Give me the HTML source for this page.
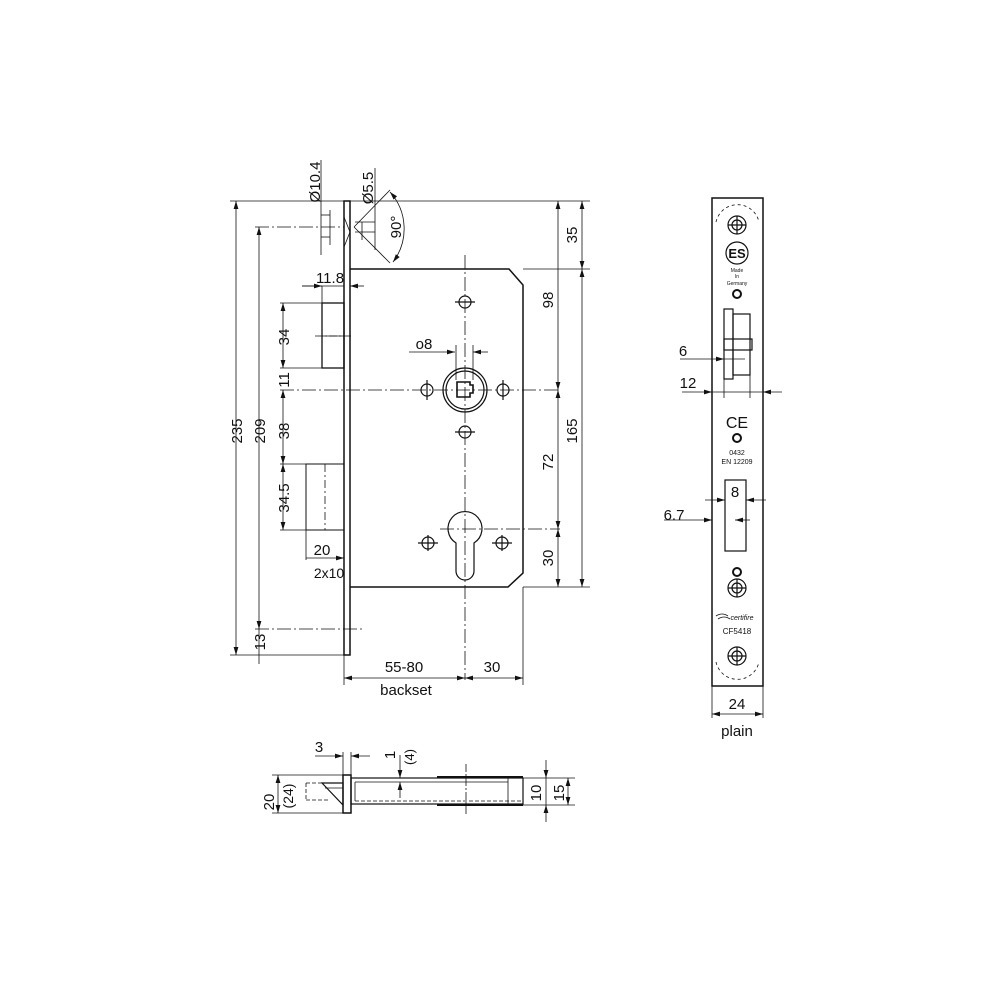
<!DOCTYPE html>
<html><head><meta charset="utf-8"><style>
html,body{margin:0;padding:0;background:#fff}
svg{display:block}
text{font-family:"Liberation Sans",sans-serif;fill:#111}
</style></head><body>
<svg width="1000" height="1000" viewBox="0 0 1000 1000" xmlns="http://www.w3.org/2000/svg">
<defs>
<marker id="a" viewBox="0 0 10 6" refX="10" refY="3" markerWidth="8" markerHeight="5" orient="auto-start-reverse" markerUnits="userSpaceOnUse"><path d="M0,0 L10,3 L0,6 z" fill="#111"/></marker>
</defs>
<g stroke="#111" fill="none" stroke-width="0.8">
<rect x="344" y="201" width="6" height="454" stroke-width="1.5"/>
<path d="M344,217 L350,232 L344,247" />
<path d="M350,269 L509,269 L523,285 L523,573 L508,587 L350,587" stroke-width="1.5"/>
<line x1="465" y1="255" x2="465" y2="680" stroke-dasharray="14,3,2,3"/>
<line x1="280" y1="390" x2="560" y2="390" stroke-dasharray="14,3,2,3"/>
<line x1="440" y1="529" x2="560" y2="529" stroke-dasharray="14,3,2,3"/>
<g stroke-width="1.2">
<circle cx="465" cy="302" r="6"/><line x1="455" y1="302" x2="475" y2="302"/>
<circle cx="465" cy="432" r="6"/><line x1="455" y1="432" x2="475" y2="432"/>
<circle cx="427" cy="390" r="6"/><line x1="427" y1="380" x2="427" y2="400"/>
<circle cx="503" cy="390" r="6"/><line x1="503" y1="380" x2="503" y2="400"/>
<circle cx="428" cy="543" r="6"/><line x1="418" y1="543" x2="438" y2="543"/><line x1="428" y1="535" x2="428" y2="551"/>
<circle cx="502" cy="543" r="6"/><line x1="492" y1="543" x2="512" y2="543"/><line x1="502" y1="535" x2="502" y2="551"/>
<circle cx="465" cy="390" r="22"/><circle cx="465" cy="390" r="19"/>
<path d="M457,382 h13 v3 h3 v8 h-3 v4 h-13 z" stroke-width="1.6"/>
<path d="M456,543 A17,17 0 1 1 474,543 L474,571 A9,9 0 0 1 456,571 Z"/>
</g>
<rect x="322" y="303" width="22" height="65" stroke-width="1.3"/>
<line x1="322" y1="336" x2="344" y2="336"/>
<line x1="315" y1="336" x2="352" y2="336" stroke-dasharray="8,2,2,2"/>
<rect x="306" y="464" width="38" height="66" stroke-width="1"/>
<line x1="325" y1="464" x2="325" y2="530" stroke-dasharray="8,3,2,3"/>
<line x1="230" y1="201" x2="344" y2="201"/>
<line x1="255" y1="227" x2="344" y2="227" stroke-dasharray="14,3,2,3"/>
<line x1="230" y1="655" x2="344" y2="655"/>
<line x1="255" y1="629" x2="362" y2="629" stroke-dasharray="14,3,2,3"/>
<line x1="280" y1="303" x2="322" y2="303"/>
<line x1="280" y1="368" x2="322" y2="368"/>
<line x1="280" y1="464" x2="306" y2="464"/>
<line x1="280" y1="530" x2="306" y2="530"/>
<line x1="350" y1="201" x2="590" y2="201"/>
<line x1="523" y1="269" x2="590" y2="269"/>
<line x1="523" y1="587" x2="590" y2="587"/>
<line x1="523" y1="587" x2="523" y2="685"/>
<line x1="344" y1="655" x2="344" y2="685"/>
<line x1="236" y1="201" x2="236" y2="655" marker-start="url(#a)" marker-end="url(#a)"/>
<line x1="259" y1="227" x2="259" y2="629" marker-start="url(#a)" marker-end="url(#a)"/>
<line x1="259" y1="629" x2="259" y2="664"/>
<line x1="283" y1="303" x2="283" y2="368" marker-start="url(#a)" marker-end="url(#a)"/>
<line x1="283" y1="390" x2="283" y2="464" marker-start="url(#a)" marker-end="url(#a)"/>
<line x1="283" y1="464" x2="283" y2="530" marker-start="url(#a)" marker-end="url(#a)"/>
<line x1="582" y1="201" x2="582" y2="269" marker-start="url(#a)" marker-end="url(#a)"/>
<line x1="582" y1="269" x2="582" y2="587" marker-start="url(#a)" marker-end="url(#a)"/>
<line x1="558" y1="201" x2="558" y2="390" marker-start="url(#a)" marker-end="url(#a)"/>
<line x1="558" y1="390" x2="558" y2="529" marker-start="url(#a)" marker-end="url(#a)"/>
<line x1="558" y1="529" x2="558" y2="587" marker-start="url(#a)" marker-end="url(#a)"/>
<line x1="344" y1="678" x2="465" y2="678" marker-start="url(#a)" marker-end="url(#a)"/>
<line x1="465" y1="678" x2="523" y2="678" marker-start="url(#a)" marker-end="url(#a)"/>
<line x1="302" y1="286" x2="322" y2="286" marker-end="url(#a)"/>
<line x1="364" y1="286" x2="350" y2="286" marker-end="url(#a)"/>
<line x1="322" y1="286" x2="322" y2="303"/>
<line x1="302" y1="286" x2="344" y2="286"/>
<line x1="306" y1="530" x2="306" y2="560"/>
<line x1="306" y1="558" x2="344" y2="558" marker-end="url(#a)"/>
<line x1="321" y1="160" x2="321" y2="255"/>
<line x1="321" y1="215" x2="330" y2="215"/><line x1="321" y1="237" x2="330" y2="237"/>
<line x1="330" y1="210" x2="330" y2="245"/>
<line x1="375" y1="168" x2="375" y2="250"/>
<line x1="355" y1="222" x2="375" y2="222"/><line x1="355" y1="232" x2="375" y2="232"/>
<line x1="362" y1="222" x2="362" y2="240"/>
<line x1="354" y1="227" x2="390" y2="190"/>
<line x1="354" y1="227" x2="390" y2="263"/>
<path d="M390,192 A55,55 0 0 1 393,262" marker-start="url(#a)" marker-end="url(#a)"/>
<line x1="409" y1="352" x2="455" y2="352" marker-end="url(#a)"/>
<line x1="488" y1="352" x2="473" y2="352" marker-end="url(#a)"/>
<line x1="456" y1="345" x2="456" y2="380"/><line x1="473" y1="345" x2="473" y2="380"/>

<rect x="712" y="198" width="51" height="488" stroke-width="1.5"/>
<path d="M716,222 A22,22 0 0 1 759,222" stroke-dasharray="3,3"/>
<path d="M716,662 A22,22 0 0 0 759,662" stroke-dasharray="3,3"/>
<g stroke-width="1.2">
<circle cx="737" cy="225" r="9"/><circle cx="737" cy="225" r="5"/><line x1="728" y1="225" x2="746" y2="225"/><line x1="737" y1="216" x2="737" y2="234"/>
<circle cx="737" cy="253" r="11"/>
<circle cx="737" cy="294" r="4" stroke-width="2"/>
<rect x="724" y="309" width="9" height="70"/>
<rect x="733" y="314" width="17" height="61"/>
<rect x="724" y="339" width="28" height="11"/>
<circle cx="737" cy="438" r="4" stroke-width="2"/>
<rect x="725" y="480" width="21" height="71"/>
<circle cx="737" cy="572" r="4" stroke-width="2"/>
<circle cx="737" cy="588" r="9"/><circle cx="737" cy="588" r="5"/><line x1="728" y1="588" x2="746" y2="588"/><line x1="737" y1="579" x2="737" y2="597"/>
<circle cx="737" cy="656" r="9"/><circle cx="737" cy="656" r="5"/><line x1="728" y1="656" x2="746" y2="656"/><line x1="737" y1="647" x2="737" y2="665"/>
</g>
<line x1="680" y1="359" x2="724" y2="359" marker-end="url(#a)"/>
<line x1="724" y1="359" x2="745" y2="359"/>
<line x1="724" y1="379" x2="724" y2="398"/><line x1="750" y1="375" x2="750" y2="398"/>
<line x1="682" y1="392" x2="712" y2="392" marker-end="url(#a)"/>
<line x1="782" y1="392" x2="763" y2="392" marker-end="url(#a)"/>
<line x1="712" y1="392" x2="763" y2="392"/>
<line x1="705" y1="500" x2="725" y2="500" marker-end="url(#a)"/>
<line x1="766" y1="500" x2="746" y2="500" marker-end="url(#a)"/>
<line x1="664" y1="520" x2="712" y2="520" marker-end="url(#a)"/>
<line x1="750" y1="520" x2="735" y2="520" marker-end="url(#a)"/>
<line x1="712" y1="686" x2="712" y2="718"/><line x1="763" y1="686" x2="763" y2="718"/>
<line x1="712" y1="714" x2="763" y2="714" marker-start="url(#a)" marker-end="url(#a)"/>

<rect x="343" y="775" width="8" height="38" stroke-width="1.5"/>
<rect x="351" y="778" width="172" height="26" stroke-width="1.2"/>
<line x1="355" y1="782" x2="508" y2="782"/>
<line x1="355" y1="782" x2="355" y2="801"/>
<line x1="355" y1="801" x2="523" y2="801" stroke-dasharray="4,2"/>
<line x1="437" y1="777" x2="523" y2="777" stroke-width="2"/>
<line x1="437" y1="805" x2="523" y2="805" stroke-width="2"/>
<line x1="508" y1="778" x2="508" y2="804"/>
<line x1="466" y1="764" x2="466" y2="815" stroke-dasharray="8,2,2,2"/>
<path d="M306,783 L343,783 M306,800 L330,800" stroke-dasharray="4,2"/>
<line x1="306" y1="783" x2="306" y2="800" stroke-dasharray="4,2"/>
<path d="M322,783 L343,783 L343,805 Z" stroke-width="1.2"/>
<line x1="325" y1="788" x2="343" y2="788"/>
<line x1="272" y1="775" x2="343" y2="775"/><line x1="272" y1="813" x2="343" y2="813"/>
<line x1="278" y1="775" x2="278" y2="813" marker-start="url(#a)" marker-end="url(#a)"/>
<line x1="315" y1="756" x2="343" y2="756" marker-end="url(#a)"/>
<line x1="370" y1="756" x2="351" y2="756" marker-end="url(#a)"/>
<line x1="343" y1="752" x2="343" y2="775"/><line x1="351" y1="752" x2="351" y2="775"/>
<line x1="400" y1="755" x2="400" y2="778" marker-end="url(#a)"/>
<line x1="400" y1="798" x2="400" y2="782" marker-end="url(#a)"/>
<line x1="523" y1="778" x2="575" y2="778"/><line x1="523" y1="805" x2="575" y2="805"/>
<line x1="546" y1="760" x2="546" y2="778" marker-end="url(#a)"/>
<line x1="546" y1="822" x2="546" y2="805" marker-end="url(#a)"/>
<line x1="546" y1="778" x2="546" y2="805"/>
<line x1="568" y1="778" x2="568" y2="805" marker-start="url(#a)" marker-end="url(#a)"/>
</g>

<g font-size="15">
<text transform="translate(242,431) rotate(-90)" text-anchor="middle">235</text>
<text transform="translate(265,431) rotate(-90)" text-anchor="middle">209</text>
<text transform="translate(289,337) rotate(-90)" text-anchor="middle">34</text>
<text transform="translate(289,380) rotate(-90)" text-anchor="middle">11</text>
<text transform="translate(289,431) rotate(-90)" text-anchor="middle">38</text>
<text transform="translate(289,498) rotate(-90)" text-anchor="middle">34.5</text>
<text transform="translate(265,642) rotate(-90)" text-anchor="middle">13</text>
<text transform="translate(577,235) rotate(-90)" text-anchor="middle">35</text>
<text transform="translate(553,300) rotate(-90)" text-anchor="middle">98</text>
<text transform="translate(577,431) rotate(-90)" text-anchor="middle">165</text>
<text transform="translate(553,462) rotate(-90)" text-anchor="middle">72</text>
<text transform="translate(553,558) rotate(-90)" text-anchor="middle">30</text>
<text transform="translate(320,182) rotate(-90)" text-anchor="middle">Ø10.4</text>
<text transform="translate(373,188) rotate(-90)" text-anchor="middle">Ø5.5</text>
<text transform="translate(401,227) rotate(-90)" text-anchor="middle">90°</text>
<text x="330" y="283" text-anchor="middle">11.8</text>
<text x="424" y="349" text-anchor="middle">o8</text>
<text x="322" y="555" text-anchor="middle">20</text>
<text x="329" y="578" text-anchor="middle" font-size="14">2x10</text>
<text x="404" y="672" text-anchor="middle">55-80</text>
<text x="492" y="672" text-anchor="middle">30</text>
<text x="406" y="695" text-anchor="middle">backset</text>
<text x="683" y="356" text-anchor="middle">6</text>
<text x="688" y="388" text-anchor="middle">12</text>
<text x="735" y="497" text-anchor="middle">8</text>
<text x="674" y="520" text-anchor="middle">6.7</text>
<text x="737" y="709" text-anchor="middle">24</text>
<text x="737" y="736" text-anchor="middle">plain</text>
<text x="319" y="752" text-anchor="middle">3</text>
<text transform="translate(395,755) rotate(-90)" text-anchor="middle">1</text>
<text transform="translate(414,757) rotate(-90)" text-anchor="middle" font-size="13">(4)</text>
<text transform="translate(274,802) rotate(-90)" text-anchor="middle">20</text>
<text transform="translate(293,796) rotate(-90)" text-anchor="middle" font-size="14">(24)</text>
<text transform="translate(541,793) rotate(-90)" text-anchor="middle">10</text>
<text transform="translate(564,793) rotate(-90)" text-anchor="middle">15</text>
</g>
<g text-anchor="middle">
<text x="737" y="258" font-size="13" font-weight="bold">ES</text>
<text x="737" y="272" font-size="5">Made</text>
<text x="737" y="278" font-size="5">In</text>
<text x="737" y="285" font-size="5">Germany</text>
<text x="737" y="428" font-size="16">CE</text>
<text x="737" y="455" font-size="7">0432</text>
<text x="737" y="464" font-size="7">EN 12209</text>
<text x="742" y="620" font-size="7" font-style="italic">certifire</text>
<text x="737" y="634" font-size="8">CF5418</text>
</g>
<path d="M716,616 q6,-4 12,0 M718,619 q6,-4 12,0" stroke="#111" fill="none" stroke-width="0.8"/>
</svg>
</body></html>
